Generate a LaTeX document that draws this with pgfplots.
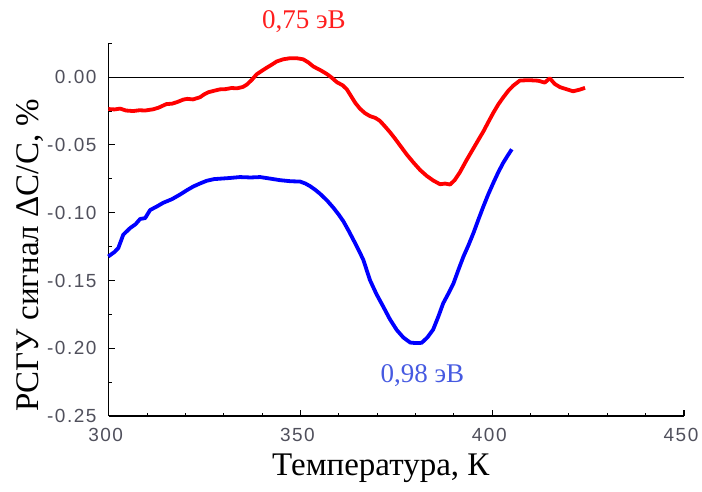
\documentclass[border=0pt]{standalone}
\usepackage{fontspec}
\setmainfont{Liberation Serif}
\newfontfamily\ticksans[LetterSpace=8]{Liberation Sans}
\usepackage{pgfplots}
\pgfplotsset{compat=1.18}

\definecolor{tickgray}{RGB}{80,80,92}
\definecolor{lblblue}{RGB}{70,90,225}
\definecolor{lblred}{RGB}{255,30,30}

% DLTS signal, low-energy level (0.75 eV)
\pgfplotstableread{
T V
299.9 -0.0235
301.5 -0.0238
303.0 -0.0232
304.5 -0.0246
306.4 -0.0250
308.0 -0.0244
309.5 -0.0246
311.6 -0.0237
313.0 -0.0225
314.0 -0.0212
315.1 -0.0198
316.5 -0.0196
318.0 -0.0182
319.5 -0.0165
320.5 -0.0160
322.0 -0.0164
323.8 -0.0148
325.0 -0.0125
326.0 -0.0111
327.5 -0.0100
329.0 -0.0090
330.5 -0.0088
332.0 -0.0080
333.5 -0.0082
335.0 -0.0072
336.0 -0.0055
337.3 -0.0020
338.6 0.0022
340.0 0.0048
341.2 0.0070
342.5 0.0092
343.8 0.0116
345.5 0.0132
347.3 0.0140
349.0 0.0140
350.7 0.0132
352.0 0.0110
353.4 0.0078
355.0 0.0055
356.8 0.0025
358.0 0.0000
359.5 -0.0037
361.0 -0.0060
362.1 -0.0090
363.2 -0.0140
364.3 -0.0190
365.5 -0.0232
366.8 -0.0265
368.1 -0.0287
369.5 -0.0300
370.7 -0.0322
372.0 -0.0362
373.4 -0.0408
374.7 -0.0455
376.0 -0.0505
377.7 -0.0570
379.4 -0.0628
381.2 -0.0685
382.9 -0.0728
384.6 -0.0762
386.4 -0.0790
387.7 -0.0785
389.0 -0.0792
390.2 -0.0760
391.6 -0.0700
393.3 -0.0612
395.1 -0.0525
396.4 -0.0462
397.7 -0.0400
399.0 -0.0330
400.3 -0.0262
401.6 -0.0200
402.9 -0.0148
404.2 -0.0100
405.5 -0.0062
407.2 -0.0025
409.5 -0.0022
412.0 -0.0026
413.7 -0.0040
415.0 -0.0008
416.3 -0.0050
417.7 -0.0074
419.5 -0.0090
421.1 -0.0104
422.8 -0.0092
424.2 -0.0079
}\redtab

% DLTS signal, deep level (0.98 eV)
\pgfplotstableread{
T V
299.9 -0.1323
301.5 -0.1290
302.5 -0.1261
303.3 -0.1200
303.8 -0.1162
305.6 -0.1113
307.0 -0.1085
308.2 -0.1046
309.5 -0.1040
310.8 -0.0980
312.5 -0.0955
314.2 -0.0927
316.5 -0.0900
318.6 -0.0866
320.5 -0.0832
322.1 -0.0806
324.0 -0.0782
325.6 -0.0764
327.5 -0.0752
329.0 -0.0749
331.5 -0.0744
334.2 -0.0737
337.0 -0.0740
339.5 -0.0737
342.0 -0.0748
344.7 -0.0760
347.5 -0.0768
349.9 -0.0770
351.3 -0.0785
352.5 -0.0804
353.8 -0.0830
355.1 -0.0860
357.0 -0.0912
358.6 -0.0964
360.0 -0.1015
361.2 -0.1064
362.5 -0.1130
363.8 -0.1200
365.1 -0.1272
366.4 -0.1348
368.1 -0.1496
369.8 -0.1600
371.6 -0.1694
373.3 -0.1785
375.1 -0.1865
376.8 -0.1920
378.6 -0.1958
380.0 -0.1962
381.6 -0.1960
383.1 -0.1920
384.6 -0.1862
385.9 -0.1770
387.2 -0.1669
388.5 -0.1600
389.9 -0.1521
391.2 -0.1420
392.5 -0.1323
393.8 -0.1240
395.1 -0.1150
396.4 -0.1050
397.7 -0.0953
399.0 -0.0862
400.3 -0.0779
401.6 -0.0700
402.9 -0.0630
404.0 -0.0580
405.1 -0.0532
}\bluetab

\begin{document}
\begin{tikzpicture}
\useasboundingbox (-108.7pt,-75pt) rectangle (593.3pt,416pt);
\begin{axis}[
  scale only axis,
  width=575.3pt, height=372.7pt,
  xmin=300, xmax=450,
  ymin=-0.25, ymax=0.025,
  axis lines=left,
  axis line style={-, line width=1.4pt, black},
  tick align=inside,
  xtick pos=left, ytick pos=left,
  xtick={300,350,400,450},
  xticklabels={300,350,400,450},
  minor xtick={310,320,330,340,360,370,380,390,410,420,430,440},
  ytick={-0.25,-0.20,-0.15,-0.10,-0.05,0},
  yticklabels={-0.25,-0.20,-0.15,-0.10,-0.05,0.00},
  minor ytick={-0.225,-0.175,-0.125,-0.075,-0.025,0.025},
  major tick length=6pt,
  minor tick length=3.5pt,
  every tick/.style={black, line width=1.1pt},
  xticklabel style={font=\fontsize{19}{19}\selectfont\ticksans, text=tickgray,
    anchor=north, inner sep=0pt, yshift=-12.5pt, xshift=-3pt},
  yticklabel style={font=\fontsize{19}{19}\selectfont\ticksans, text=tickgray,
    anchor=east, inner sep=0pt, xshift=-12pt},
  xlabel={Температура, К},
  ylabel={РСГУ сигнал ΔC/C, \%},
  xlabel style={font=\fontsize{33}{33}\selectfont, at={(axis description cs:0.473,-0.159)}, anchor=base},
  ylabel style={font=\fontsize{33}{33}\selectfont, at={(axis description cs:-0.1368,0.431)}, anchor=center},
  clip=false,
]
\addplot[black, line width=1.1pt] coordinates {(300,0) (450,0)};
\addplot[red, line width=3.8pt, line join=round] table[x=T,y=V] {\redtab};
\addplot[blue, line width=3.8pt, line join=round] table[x=T,y=V] {\bluetab};
\node[text=lblred, font=\fontsize{27}{27}\selectfont, anchor=base] at (axis cs:350.9,0.0358) {0,75 эВ};
\node[text=lblblue, font=\fontsize{27}{27}\selectfont, anchor=base] at (axis cs:381.8,-0.2255) {0,98 эВ};
\end{axis}
\end{tikzpicture}
\end{document}
